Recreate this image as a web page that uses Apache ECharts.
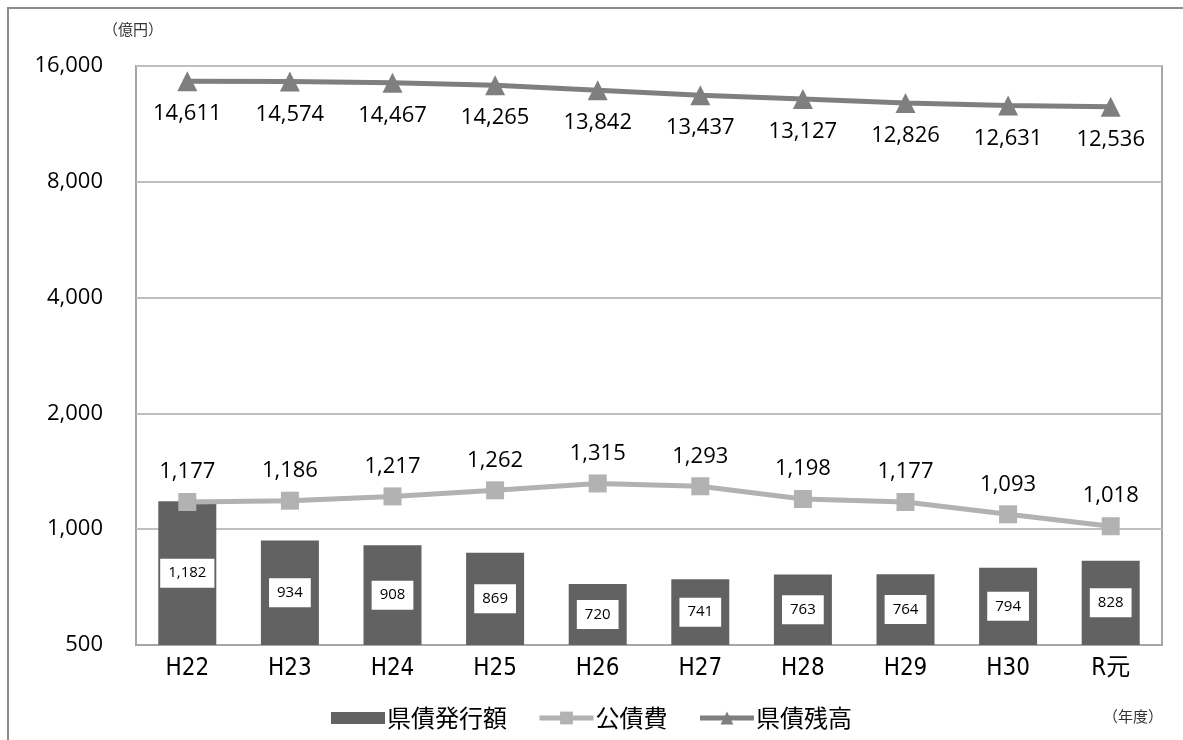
<!DOCTYPE html>
<html><head><meta charset="utf-8">
<script src="https://cdn.jsdelivr.net/npm/echarts@6/dist/echarts.min.js"></script>
<style>html,body{margin:0;padding:0;background:#fff}#c{width:1183px;height:740px}</style>
</head><body><div id="c"></div>
<script>
const categories = ['H22','H23','H24','H25','H26','H27','H28','H29','H30','R元'];
const issuance = [1182,934,908,869,720,741,763,764,794,828];      // 県債発行額
const debtService = [1177,1186,1217,1262,1315,1293,1198,1177,1093,1018]; // 公債費
const balance = [14611,14574,14467,14265,13842,13437,13127,12826,12631,12536]; // 県債残高
const yTicks = [500,1000,2000,4000,8000,16000];

const BASE = yTicks[0];
const tf = v => Math.log2(v / BASE);
const inv = t => BASE * Math.pow(2, t);
const fmt = v => Math.round(v).toLocaleString('en-US');
const jp = '"Noto Sans CJK JP", "Noto Sans", sans-serif';
const num = '"Open Sans", "Noto Sans", sans-serif';

const chart = echarts.init(document.getElementById('c'));
chart.setOption({
  animation: false,
  backgroundColor: '#fff',
  grid: {left: 136, right: 21, top: 66, bottom: 95, show: true, borderColor: '#a6a6a6', borderWidth: 2},
  xAxis: {
    type: 'category', data: categories,
    axisLine: {lineStyle: {color: '#a6a6a6', width: 2}},
    axisTick: {show: false},
    axisLabel: {color: '#000', fontSize: 24, margin: 12, fontFamily: '"DejaVu Sans Condensed", ' + jp}
  },
  yAxis: {
    type: 'value', min: 0, max: tf(yTicks[yTicks.length-1]), interval: 1,
    axisLine: {show: false}, axisTick: {show: false},
    splitLine: {lineStyle: {color: '#bfbfbf', width: 2}},
    axisLabel: {color: '#000', fontSize: 22, margin: 33, fontFamily: num,
      formatter: v => fmt(inv(v))}
  },
  legend: {
    bottom: 5, left: 'center', itemGap: 30, itemWidth: 54, itemHeight: 16,
    lineStyle: {width: 5},
    textStyle: {fontSize: 24, color: '#000', fontFamily: jp, padding: [0, 0, 0, -3]},
    data: [
      {name: '県債発行額', icon: 'path://M0,2H54V14H0Z'},
      {name: '公債費'},
      {name: '県債残高'}
    ]
  },
  graphic: [
    {type: 'rect', shape: {x: 8, y: 8, width: 1200, height: 800}, style: {fill: 'none', stroke: '#8c8c8c', lineWidth: 2}, silent: true},
    {type: 'text', left: 103, top: 22, style: {text: '（億円）', fontSize: 15, fill: '#333', fontFamily: jp}},
    {type: 'text', left: 1103, top: 709, style: {text: '（年度）', fontSize: 15, fill: '#333', fontFamily: jp}}
  ],
  series: [
    {
      name: '県債発行額', type: 'bar', barWidth: 58,
      data: issuance.map(tf),
      itemStyle: {color: '#626262'},
      label: {show: true, position: 'inside', formatter: p => fmt(issuance[p.dataIndex]),
        backgroundColor: '#fff', color: '#000', fontSize: 15, padding: [7, 8], fontFamily: num}
    },
    {
      name: '公債費', type: 'line', data: debtService.map(tf),
      lineStyle: {color: '#b2b2b2', width: 5},
      itemStyle: {color: '#b2b2b2'},
      symbol: 'rect', symbolSize: 18,
      label: {show: true, position: 'top', distance: 10, fontSize: 22, color: '#000', fontFamily: num,
        formatter: p => fmt(debtService[p.dataIndex])}
    },
    {
      name: '県債残高', type: 'line', data: balance.map(tf),
      lineStyle: {color: '#7f7f7f', width: 5},
      itemStyle: {color: '#7f7f7f'},
      symbol: 'triangle', symbolSize: 20,
      label: {show: true, position: 'bottom', distance: 12, fontSize: 22, color: '#000', fontFamily: num,
        formatter: p => fmt(balance[p.dataIndex])}
    }
  ]
});
</script></body></html>
